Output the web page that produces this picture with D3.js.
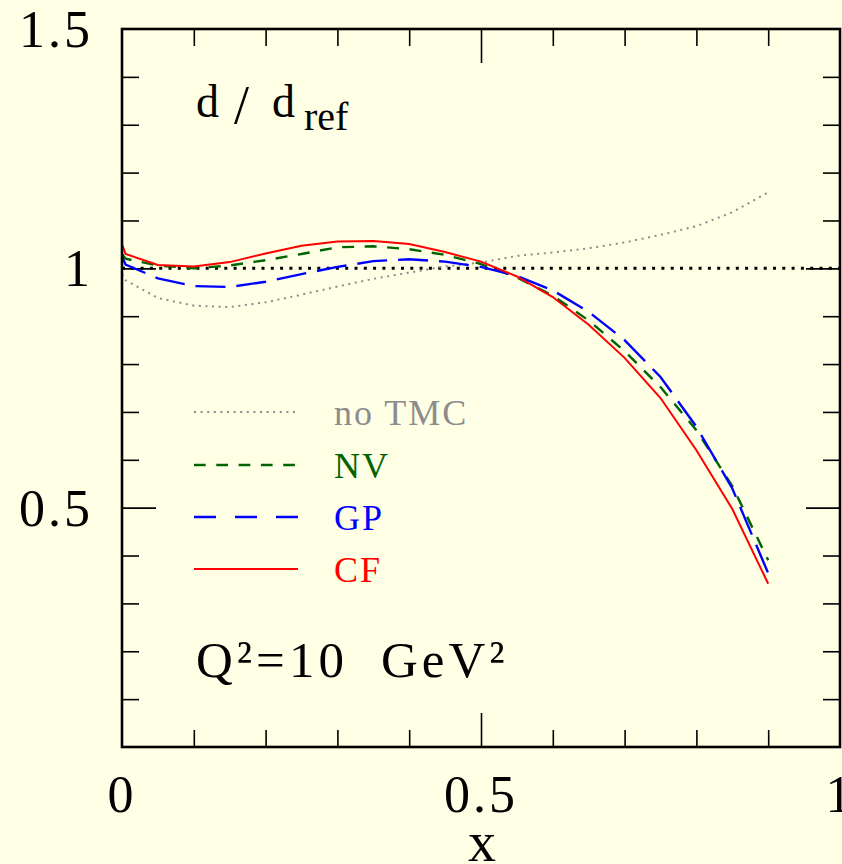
<!DOCTYPE html>
<meta charset="utf-8">
<style>
  body { margin: 0; background: #ffffe6; }
  svg { display: block; }
  text { font-family: "Liberation Serif", serif; }
</style>
<body>
<script src="https://d3js.org/d3.v7.min.js"></script>
<script>
var width = 842,
    height = 864;

// x grid shared by all curves
var xs      = [0, 0.005, 0.05, 0.1, 0.15, 0.2, 0.25, 0.3, 0.35, 0.4, 0.45, 0.5, 0.55, 0.6, 0.65, 0.7, 0.75, 0.8, 0.85, 0.9];
var noTMC   = [0.988, 0.975, 0.938, 0.922, 0.919, 0.929, 0.945, 0.962, 0.978, 0.991, 1.004, 1.012, 1.026, 1.033, 1.042, 1.054, 1.07, 1.088, 1.117, 1.159];
var nv      = [1.03, 1.02, 1.006, 1.0, 1.006, 1.017, 1.03, 1.044, 1.046, 1.04, 1.028, 1.009, 0.981, 0.943, 0.891, 0.827, 0.752, 0.662, 0.545, 0.39];
var gp      = [1.024, 1.008, 0.979, 0.963, 0.961, 0.972, 0.988, 1.003, 1.015, 1.019, 1.014, 1.003, 0.984, 0.954, 0.909, 0.85, 0.773, 0.669, 0.54, 0.363];
var cf      = [1.05, 1.03, 1.007, 1.004, 1.013, 1.031, 1.047, 1.056, 1.057, 1.051, 1.034, 1.014, 0.983, 0.94, 0.882, 0.813, 0.729, 0.62, 0.497, 0.341];

var seriesNames = ["no TMC", "NV", "GP", "CF"];
var xMinor = [0.1, 0.2, 0.3, 0.4, 0.6, 0.7, 0.8, 0.9];
var xMajor = [0.5];
var yMinor = [0.1, 0.2, 0.3, 0.4, 0.6, 0.7, 0.8, 0.9, 1.1, 1.2, 1.3, 1.4];
var yMajor = [0.5, 1];
var xLabels = [0, 0.5, 1];
var yLabels = [0.5, 1, 1.5];

var x = d3.scaleLinear().domain([0, 1]).range([122, 840]);
var y = d3.scaleLinear().domain([0, 1.5]).range([747, 29]);

var svg = d3.select("body").append("svg")
    .attr("width", width)
    .attr("height", height);

svg.append("rect").attr("width", width).attr("height", height).attr("fill", "#ffffe6");

// ticks on all four sides, pointing inward
function tickAxis(axis, vals, len, tx, ty) {
  var g = svg.append("g")
      .attr("transform", "translate(" + tx + "," + ty + ")")
      .call(axis.tickValues(vals).tickSize(len).tickFormat(""));
  g.select(".domain").remove();
  g.selectAll(".tick line").attr("stroke", "#000").attr("stroke-width", 1.6);
}
tickAxis(d3.axisBottom(x), xMinor, -17, 0, 747);
tickAxis(d3.axisBottom(x), xMajor, -34, 0, 747);
tickAxis(d3.axisTop(x), xMinor, -17, 0, 29);
tickAxis(d3.axisTop(x), xMajor, -34, 0, 29);
tickAxis(d3.axisLeft(y), yMinor, -17, 122, 0);
tickAxis(d3.axisLeft(y), yMajor, -34, 122, 0);
tickAxis(d3.axisRight(y), yMinor, -17, 840, 0);
tickAxis(d3.axisRight(y), yMajor, -34, 840, 0);

// tick labels
var fmt = function(d) { return d === 0 || d === 1 ? String(d) : String(d); };
svg.selectAll(".xl").data(xLabels).enter().append("text")
    .attr("x", function(d) { return x(d); })
    .attr("y", 812)
    .attr("text-anchor", "middle")
    .attr("font-size", 52)
    .attr("letter-spacing", 3)
    .text(fmt);
svg.selectAll(".yl").data(yLabels).enter().append("text")
    .attr("x", 93)
    .attr("y", function(d) { return y(d) + 18; })
    .attr("text-anchor", "end")
    .attr("font-size", 52)
    .attr("letter-spacing", 3)
    .text(fmt);

svg.append("text")
    .attr("x", 482).attr("y", 861)
    .attr("text-anchor", "middle")
    .attr("font-size", 56)
    .text("x");

// reference line at 1
svg.append("line")
    .attr("x1", x(0)).attr("x2", x(1))
    .attr("y1", y(1)).attr("y2", y(1))
    .attr("stroke", "#000").attr("stroke-width", 3)
    .attr("stroke-dasharray", "3,6.3");

var styles = [
  { vals: noTMC, color: "#8c8c8c", w: 2,   dash: "2,4.6",  legDash: "2,4.6" },
  { vals: nv,    color: "#006400", w: 2.4, dash: "12,10.5", legDash: "11.7,10.6" },
  { vals: gp,    color: "#0000ff", w: 2.4, dash: "30,11",  legDash: "22,19" },
  { vals: cf,    color: "#ff0000", w: 2,   dash: null,     legDash: null }
];

var line = d3.line()
    .x(function(d) { return x(d[0]); })
    .y(function(d) { return y(d[1]); });

styles.forEach(function(s) {
  svg.append("path")
      .datum(xs.map(function(v, i) { return [v, s.vals[i]]; }))
      .attr("d", line)
      .attr("fill", "none")
      .attr("stroke", s.color)
      .attr("stroke-width", s.w)
      .attr("stroke-dasharray", s.dash);
});

// frame
svg.append("rect")
    .attr("x", x(0)).attr("y", y(1.5))
    .attr("width", x(1) - x(0)).attr("height", y(0) - y(1.5))
    .attr("fill", "none").attr("stroke", "#000").attr("stroke-width", 2.6);

// legend
var legY = [412, 465, 517, 569];
styles.forEach(function(s, i) {
  svg.append("line")
      .attr("x1", 194).attr("x2", 298)
      .attr("y1", legY[i]).attr("y2", legY[i])
      .attr("stroke", s.color).attr("stroke-width", s.w)
      .attr("stroke-dasharray", s.legDash);
  svg.append("text")
      .attr("x", 334).attr("y", legY[i] + 13)
      .attr("font-size", 36)
      .attr("letter-spacing", 2)
      .attr("fill", s.color)
      .style("white-space", "pre")
      .text(seriesNames[i]);
});

// annotations
var t = svg.append("text").attr("y", 117).attr("font-size", 46);
t.append("tspan").attr("x", 196).text("d");
t.append("tspan").attr("x", 234).attr("font-size", 54).attr("dy", 6).text("/");
t.append("tspan").attr("x", 272).attr("dy", -6).text("d");
t.append("tspan").attr("x", 304).attr("dy", 13).attr("font-size", 40).text("ref");

svg.append("text").attr("x", 196).attr("y", 677)
    .attr("font-size", 51).attr("letter-spacing", 4)
    .text("Q²=10");
svg.append("text").attr("x", 381).attr("y", 677)
    .attr("font-size", 51).attr("letter-spacing", 4)
    .text("GeV²");
</script>
</body>
